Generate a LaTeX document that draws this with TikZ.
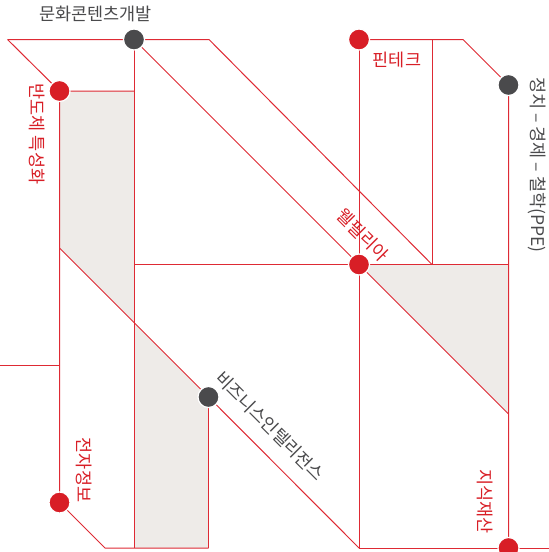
\documentclass[tikz,border=0pt]{standalone}
\usepackage{fontspec}
\setmainfont{Noto Sans CJK KR}
\definecolor{lred}{RGB}{222,42,52}
\definecolor{dred}{RGB}{216,30,38}
\definecolor{dgray}{RGB}{74,74,76}
\definecolor{shadec}{RGB}{238,235,232}
\begin{document}
\begin{tikzpicture}[x=1pt,y=-1pt,
  line/.style={draw=lred,line width=1pt},
  reddot/.style={circle,fill=dred,draw=white,line width=1.2pt,minimum size=21pt,inner sep=0pt},
  graydot/.style={circle,fill=dgray,draw=white,line width=1.2pt,minimum size=21pt,inner sep=0pt},
  rlabel/.style={text=dred,font=\fontsize{17.5}{20}\selectfont,inner sep=0pt},
  glabel/.style={text=dgray,font=\fontsize{17.5}{20}\selectfont,inner sep=0pt}]
\useasboundingbox (0,0) rectangle (549,552);
% coordinates
\coordinate (A) at (7.5,39.5);
\coordinate (T) at (209,39.5);
\coordinate (F1) at (463,39.5);
\coordinate (X5t) at (432,39.5);
\coordinate (X5m) at (432,264.5);
\coordinate (X2m) at (134,91);
\coordinate (X2w) at (134,264.5);
\coordinate (X2b) at (134,548);
\coordinate (X6m) at (508.5,264.5);
\coordinate (X6s) at (508.5,414);
\coordinate (L1) at (59.5,248);
\coordinate (X2d) at (134,322.5);
\coordinate (X3b) at (208.5,548);
\coordinate (X4b) at (359,548);
\coordinate (E) at (549,548);
\coordinate (BL) at (105,548);
\coordinate (H0) at (0,365);
\coordinate (H1) at (59.5,365);
% shades
\fill[shadec] (59.5,91) -- (X2m) -- (X2d) -- (L1) -- cycle;
\fill[shadec] (X2d) -- (208.5,397) -- (X3b) -- (X2b) -- cycle;
\fill[shadec] (359,264.5) -- (X6m) -- (X6s) -- cycle;
% dot centres
\path (134,39.5) coordinate (cMH);
\path (59.5,91) coordinate (cBD);
\path (359,39.5) coordinate (cFT);
\path (508.5,85) coordinate (cPPE);
\path (359,264.5) coordinate (cWP);
\path (208.5,397) coordinate (cBI);
\path (59.5,502.5) coordinate (cJJ);
\path (508.5,548) coordinate (cJS);
% lines
\draw[line] (A) -- (T) -- (X5m);
\draw[line] (A) -- (cBD) -- (X2m);
\draw[line] (cMH) -- (X2b);
\draw[line] (cMH) -- (cWP);
\draw[line] (cBD) -- (cJJ) -- (BL) -- (X3b);
\draw[line] (L1) -- (cBI) -- (X4b);
\draw[line] (cBI) -- (X3b);
\draw[line] (X2w) -- (X6m);
\draw[line] (cFT) -- (F1) -- (cPPE) -- (cJS);
\draw[line] (cFT) -- (X4b) -- (E);
\draw[line] (X5t) -- (X5m);
\draw[line] (cWP) -- (X6s);
\draw[line] (H0) -- (H1);
% dots
\node[graydot] (dMH) at (cMH) {};
\node[reddot] (dBD) at (cBD) {};
\node[reddot] (dFT) at (cFT) {};
\node[graydot] (dPPE) at (cPPE) {};
\node[reddot] (dWP) at (cWP) {};
\node[graydot] (dBI) at (cBI) {};
\node[reddot] (dJJ) at (cJJ) {};
\node[reddot] (dJS) at (cJS) {};
% labels
\node[glabel] (tMH) at (95.5,14) {문화콘텐츠개발};
\node[rlabel,rotate=-90] (tBD) at (37,134) {반도체 특성화};
\node[rlabel] (tFT) at (397,60) {핀테크};
\node[glabel,rotate=-90] (tPPE) at (537,165) {정치 – 경제 – 철학(PPE)};
\node[rlabel,rotate=-45] (tWP) at (363,235) {웰필리아};
\node[glabel,rotate=-45] (tBI) at (270,426) {비즈니스인텔리전스};
\node[rlabel,rotate=-90] (tJJ) at (84,470) {전자정보};
\node[rlabel,rotate=-90] (tJS) at (485.5,501.5) {지식재산};
\end{tikzpicture}
\end{document}
